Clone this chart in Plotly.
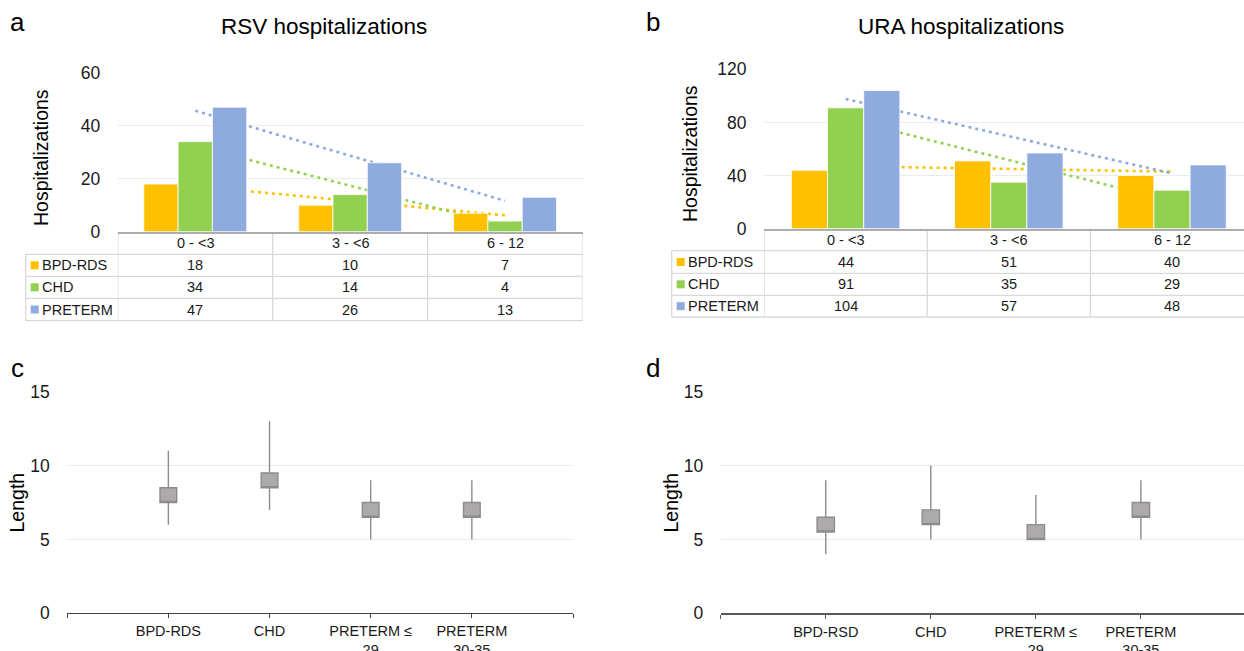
import numpy as np
import plotly.graph_objects as go

# ---------------- data ----------------
age_groups = ["0 - &lt;3", "3 - &lt;6", "6 - 12"]
series_names = ["BPD-RDS", "CHD", "PRETERM"]
series_colors = ["#FFC000", "#92D050", "#8FAADC"]

rsv_bpd = [18, 10, 7]
rsv_chd = [34, 14, 4]
rsv_pre = [47, 26, 13]

ura_bpd = [44, 51, 40]
ura_chd = [91, 35, 29]
ura_pre = [104, 57, 48]

c_categories = ["BPD-RDS", "CHD", "PRETERM ≤<br>29", "PRETERM<br>30-35"]
c_open = [7.5, 8.5, 6.5, 6.5]
c_close = [8.5, 9.5, 7.5, 7.5]
c_low = [6, 7, 5, 5]
c_high = [11, 13, 9, 9]

d_categories = ["BPD-RSD", "CHD", "PRETERM ≤<br>29", "PRETERM<br>30-35"]
d_open = [5.5, 6, 5, 6.5]
d_close = [6.5, 7, 6, 7.5]
d_low = [4, 5, 5, 5]
d_high = [9, 10, 8, 9]

# ---------------- layout helpers ----------------
W, H = 1244, 651
FONT = "Liberation Sans, Arial, sans-serif"
TXT = "#1a1a1a"
GRID = "#EBEBEB"
TBL = "#D9D9D9"


def px(p):
    return p / W


def py(p):
    return 1 - p / H


fig = go.Figure()
shapes = []
annotations = []

# ---------------- panels a & b (bars + trendlines + data table) ----------------
bar_panels = [
    dict(xa="x", ya="y", xo="x5", yo="y5", data=[rsv_bpd, rsv_chd, rsv_pre],
         legend_left=25.7, rows=[231.7, 254.3, 276.3, 298.3, 320.7], right=582.5),
    dict(xa="x2", ya="y2", xo="x6", yo="y6", data=[ura_bpd, ura_chd, ura_pre],
         legend_left=671.7, rows=[228.7, 250.7, 273.3, 295.3, 317.0], right=1244),
]

xcat = np.arange(len(age_groups))
for p in bar_panels:
    # trendlines (base subplot, drawn beneath bars)
    for vals, col in zip(p["data"], series_colors):
        k, b = np.polyfit(xcat, vals, 1)
        fig.add_trace(go.Scatter(x=[xcat[0], xcat[-1]], y=[b + k * xcat[0], b + k * xcat[-1]],
                                 mode="lines", line=dict(color=col, width=2.6, dash="3px,4px"),
                                 xaxis=p["xa"], yaxis=p["ya"], showlegend=False, hoverinfo="skip"))
    # bars (overlay subplot, drawn above)
    for name, vals, col in zip(series_names, p["data"], series_colors):
        fig.add_trace(go.Bar(x=xcat, y=vals, name=name, marker=dict(color=col, line=dict(color="white", width=0.8)),
                             xaxis=p["xo"], yaxis=p["yo"], showlegend=False))
    rows = p["rows"]
    # table: column separators (category boundaries)
    for xb in [-0.5, 0.5, 1.5, 2.5]:
        shapes.append(dict(type="line", xref=p["xa"], yref="paper", x0=xb, x1=xb,
                           y0=py(rows[0]), y1=py(rows[-1]), line=dict(color=TBL, width=1.3), layer="below"))
    # legend column left border
    shapes.append(dict(type="line", xref="paper", yref="paper", x0=px(p["legend_left"]), x1=px(p["legend_left"]),
                       y0=py(rows[1]), y1=py(rows[-1]), line=dict(color=TBL, width=1.3)))
    for r in rows[1:]:
        shapes.append(dict(type="line", xref="paper", yref="paper", x0=px(p["legend_left"]), x1=px(p["right"]),
                           y0=py(r), y1=py(r), line=dict(color=TBL, width=1.3)))
    # header cells
    yc = py((rows[0] + rows[1]) / 2)
    for i, g in enumerate(age_groups):
        annotations.append(dict(x=i, y=yc, xref=p["xa"], yref="paper", text=g, showarrow=False,
                                font=dict(size=14.5, color=TXT, family=FONT), xanchor="center", yanchor="middle"))
    # value rows
    for j, (name, vals, col) in enumerate(zip(series_names, p["data"], series_colors)):
        yc_px = (rows[j + 1] + rows[j + 2]) / 2
        yc = py(yc_px)
        shapes.append(dict(type="rect", xref="paper", yref="paper",
                           x0=px(p["legend_left"] + 5), x1=px(p["legend_left"] + 13),
                           y0=py(yc_px + 4), y1=py(yc_px - 4), fillcolor=col, line=dict(width=0)))
        annotations.append(dict(x=px(p["legend_left"] + 14), y=yc, xref="paper", yref="paper", text=name,
                                showarrow=False, font=dict(size=14.5, color=TXT, family=FONT),
                                xanchor="left", yanchor="middle"))
        for i, v in enumerate(vals):
            annotations.append(dict(x=i, y=yc, xref=p["xa"], yref="paper", text=str(v), showarrow=False,
                                    font=dict(size=14.5, color=TXT, family=FONT), xanchor="center", yanchor="middle"))

# ---------------- panels c & d (open-close boxes with high-low whiskers) ----------------
box_fill = "#AEAAAA"
box_line = "#8C8C8C"
for xa, ya, op, cl, lo, hi in [("x3", "y3", c_open, c_close, c_low, c_high),
                               ("x4", "y4", d_open, d_close, d_low, d_high)]:
    fig.add_trace(go.Box(x=list(range(len(op))), q1=op, median=op, q3=cl, lowerfence=lo, upperfence=hi,
                         width=0.165, whiskerwidth=0, fillcolor=box_fill, line=dict(color=box_line, width=1.4),
                         boxpoints=False, xaxis=xa, yaxis=ya, showlegend=False, hoverinfo="skip"))

# ---------------- axes ----------------
tickfont = dict(size=17.5, color=TXT, family=FONT)
ycommon = dict(showline=False, zeroline=False, showgrid=True, gridcolor=GRID, gridwidth=1, automargin=False,
               ticks="outside", ticklen=13, tickcolor="rgba(0,0,0,0)", tickfont=tickfont)

b_xmax = -0.5 + (1244 - 764) / 163.2
d_xmax = -1 + (1244 - 720.7) / 105.05

fig.update_layout(
    xaxis=dict(domain=[px(117.8), px(582.5)], range=[-0.5, 2.5], anchor="y", showline=True, linecolor="#ADADAD",
               linewidth=1.6, showticklabels=False, showgrid=False, zeroline=False, ticks="", automargin=False),
    yaxis=dict(domain=[py(231.7), py(72.7)], range=[0, 60], tickvals=[0, 20, 40, 60], anchor="x", **ycommon),
    xaxis5=dict(overlaying="x", range=[-0.5, 2.5], visible=False, anchor="y5", automargin=False),
    yaxis5=dict(overlaying="y", range=[0, 60], visible=False, anchor="x5", automargin=False),
    xaxis2=dict(domain=[px(764), 1], range=[-0.5, b_xmax], anchor="y2", showline=True, linecolor="#ADADAD",
                linewidth=1.6, showticklabels=False, showgrid=False, zeroline=False, ticks="", automargin=False),
    yaxis2=dict(domain=[py(228.7), py(69.3)], range=[0, 120], tickvals=[0, 40, 80, 120], anchor="x2", **ycommon),
    xaxis6=dict(overlaying="x2", range=[-0.5, b_xmax], visible=False, anchor="y6", automargin=False),
    yaxis6=dict(overlaying="y2", range=[0, 120], visible=False, anchor="x6", automargin=False),
    xaxis3=dict(domain=[px(67.2), px(573)], range=[-1, 4], anchor="y3", showline=True, linecolor="#404040",
                linewidth=1.3, tickvals=[-1, 0, 1, 2, 3, 4], ticktext=[""] + c_categories + [""],
                ticks="outside", ticklen=4, tickcolor="#404040", tickwidth=1, showgrid=False, zeroline=False,
                tickfont=dict(size=14.5, color=TXT, family=FONT), automargin=False),
    yaxis3=dict(domain=[py(613.3), py(391.7)], range=[0, 15], tickvals=[0, 5, 10, 15], anchor="x3", **ycommon),
    xaxis4=dict(domain=[px(720.7), 1], range=[-1, d_xmax], anchor="y4", showline=True, linecolor="#595959",
                linewidth=1.8, tickvals=[-1, 0, 1, 2, 3], ticktext=[""] + d_categories,
                ticks="outside", ticklen=4, tickcolor="#595959", tickwidth=1, showgrid=False, zeroline=False,
                tickfont=dict(size=14.5, color=TXT, family=FONT), automargin=False),
    yaxis4=dict(domain=[py(613.3), py(391.7)], range=[0, 15], tickvals=[0, 5, 10, 15], anchor="x4", **ycommon),
    barmode="group", bargap=0.335, bargroupgap=0,
)

# ---------------- text labels ----------------
def label(x, y, text, size, angle=0):
    annotations.append(dict(x=px(x), y=py(y), xref="paper", yref="paper", text=text, showarrow=False,
                            textangle=angle, font=dict(size=size, color="#000000", family=FONT),
                            xanchor="center", yanchor="middle"))

label(17, 22, "a", 26)
label(653, 22, "b", 26)
label(17, 368, "c", 26)
label(653, 368, "d", 26)
label(323.5, 26, "RSV hospitalizations", 22.5)
label(961, 26, "URA hospitalizations", 22.5)
label(41, 157, "Hospitalizations", 19.5, -90)
label(690, 154, "Hospitalizations", 19.5, -90)
label(16, 502.5, "Length", 19.5, -90)
label(670, 502.5, "Length", 19.5, -90)

fig.update_layout(
    width=W, height=H, autosize=False,
    margin=dict(l=0, r=0, t=0, b=0, pad=0, autoexpand=False),
    paper_bgcolor="white", plot_bgcolor="white",
    font=dict(family=FONT, color=TXT),
    shapes=shapes, annotations=annotations, showlegend=False,
)

fig.write_html("out.html", config={"displayModeBar": False},
               post_script="document.body.style.margin='0px';document.body.style.overflow='hidden';")
